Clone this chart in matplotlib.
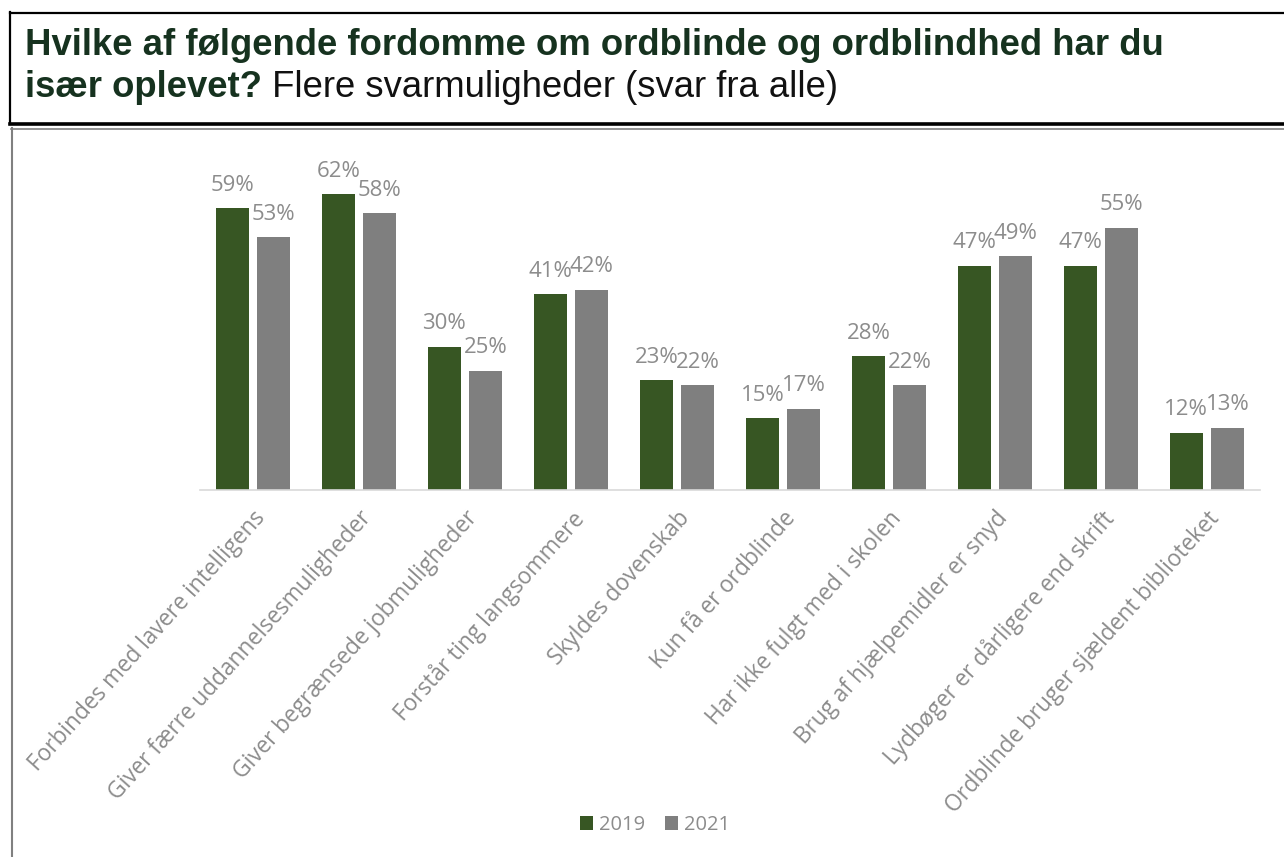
import matplotlib.pyplot as plt
from matplotlib.lines import Line2D
import numpy as np

# data
categories = [
    "Forbindes med lavere intelligens",
    "Giver færre uddannelsesmuligheder",
    "Giver begrænsede jobmuligheder",
    "Forstår ting langsommere",
    "Skyldes dovenskab",
    "Kun få er ordblinde",
    "Har ikke fulgt med i skolen",
    "Brug af hjælpemidler er snyd",
    "Lydbøger er dårligere end skrift",
    "Ordblinde bruger sjældent biblioteket",
]
v2019 = [59, 62, 30, 41, 23, 15, 28, 47, 47, 12]
v2021 = [53, 58, 25, 42, 22, 17, 22, 49, 55, 13]

GREEN = "#375623"
GREY = "#7f7f7f"
LABEL = "#8c8c8c"
W, H = 1284, 857

fig = plt.figure(figsize=(W / 100, H / 100), dpi=100)

#── chart ──────────────────────────────────────────────
ax = fig.add_axes([200 / W, 1 - 490 / H, 1060 / W, 334 / H])
x = np.arange(len(categories))
bw = 0.31
b1 = ax.bar(x - 0.195, v2019, bw, color=GREEN, label="2019")
b2 = ax.bar(x + 0.195, v2021, bw, color=GREY, label="2021")
for bars in (b1, b2):
    ax.bar_label(bars, labels=[f"{v:.0f}%" for v in bars.datavalues], padding=9,
                 color=LABEL, fontsize=16, family="Open Sans")

ax.set_xlim(-0.5, len(categories) - 0.5)
ax.set_ylim(0, 70)
ax.set_yticks([])
for s in ("top", "right", "left"):
    ax.spines[s].set_visible(False)
ax.spines["bottom"].set_color("#d9d9d9")
ax.spines["bottom"].set_linewidth(1.2)
ax.tick_params(axis="x", length=0, pad=12)
ax.set_xticks(x)
ax.set_xticklabels(categories, rotation=48, ha="right", va="top", rotation_mode="anchor",
                   color=LABEL, fontsize=16.3, family="Open Sans")

fig.legend(handles=[b1, b2], loc="center", bbox_to_anchor=(655 / W, 1 - 825 / H), ncol=2,
           frameon=False, handlelength=0.65, handleheight=0.65, handletextpad=0.3,
           columnspacing=1.0, prop={"family": "Open Sans", "size": 14.5}, labelcolor=LABEL)

#── title box ──────────────────────────────────────────
def hline(y, x0, x1, lw, color):
    fig.add_artist(Line2D([x0 / W, x1 / W], [1 - y / H, 1 - y / H], lw=lw, color=color))

def vline(xp, y0, y1, lw, color):
    fig.add_artist(Line2D([xp / W, xp / W], [1 - y0 / H, 1 - y1 / H], lw=lw, color=color))

hline(12.5, 10, W, 1.6, "black")
vline(10.5, 12, 124, 1.6, "black")
hline(124, 10, W, 2.6, "black")
hline(128.5, 11, W, 1.2, "#808080")
vline(12, 128, H, 1.5, "#808080")

TITLE = "#16321f"
fig.text(25 / W, 1 - 55 / H, "Hvilke af følgende fordomme om ordblinde og ordblindhed har du",
         family="Liberation Sans", weight="bold", fontsize=26.3, color=TITLE, va="baseline")
t2 = fig.text(25 / W, 1 - 97 / H, "især oplevet?", family="Liberation Sans", weight="bold",
              fontsize=26.3, color=TITLE, va="baseline")
fig.canvas.draw()
bb = t2.get_window_extent()
fig.text(bb.x1 / W, 1 - 97 / H, " Flere svarmuligheder (svar fra alle)", family="Liberation Sans",
         fontsize=26.3, color="#111111", va="baseline")

fig.savefig("out.png", dpi=100)
